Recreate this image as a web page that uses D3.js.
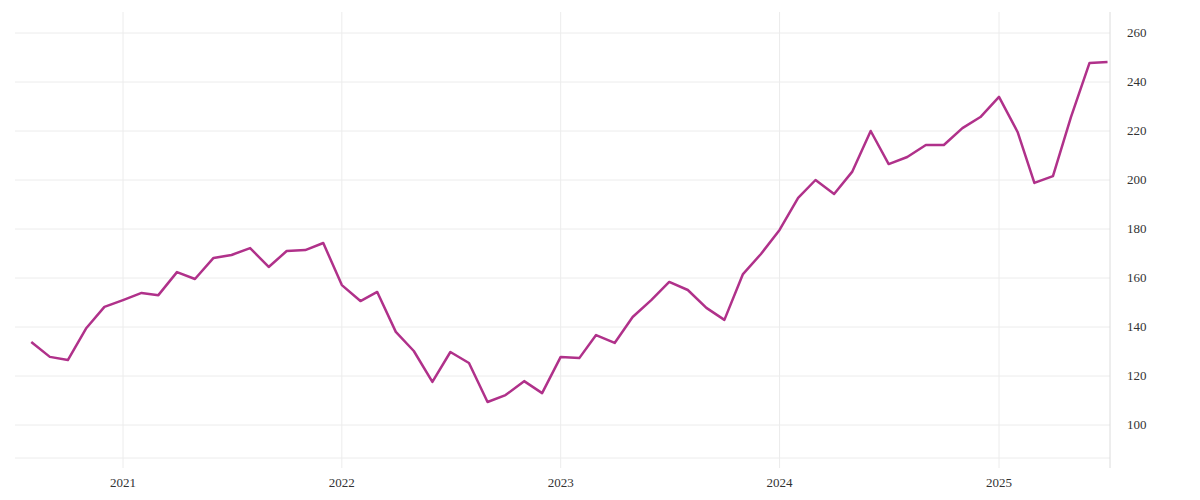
<!DOCTYPE html>
<html><head><meta charset="utf-8">
<script src="https://cdn.jsdelivr.net/npm/d3@7"></script>
<style>body{margin:0;background:#fff}text{font-family:"Liberation Serif",serif;font-size:13px;fill:#333}</style>
</head><body><svg id="c" width="1200" height="500"></svg>
<script>
const startMonth = "2020-08";
const values = [133.9,127.8,126.5,139.6,148.2,151,153.9,153,162.4,159.6,168.2,169.4,172.2,164.5,171,171.4,174.3,
157.1,150.6,154.3,138,130.2,117.6,129.8,125.3,109.4,112.2,117.9,113,
127.8,127.3,136.7,133.5,144.1,151,158.4,155.1,147.8,142.9,161.6,169.8,
179.6,192.7,200,194.3,203.3,220,206.5,209.4,214.3,214.3,221.2,225.7,
233.9,219.6,198.8,201.6,225.7,247.8,248.2];
const yTicks = [100,120,140,160,180,200,220,240,260];
const xTickYears = [2021,2022,2023,2024,2025];

(function(){
const svg = d3.select("#c");
const t0 = d3.timeParse("%Y-%m")(startMonth);
const dates = values.map((v,i)=>d3.timeMonth.offset(t0,i));
const x = d3.scaleTime().domain([new Date(2021,0,1),new Date(2025,0,1)]).range([123,999]);
const y = d3.scaleLinear().domain([100,260]).range([425,33]);
const pTop=12,pBottom=468,pLeft=15,pRight=1110;
const g = svg.append("g");
xTickYears.forEach(yr=>{
  const xx=x(new Date(yr,0,1));
  g.append("line").attr("x1",xx).attr("x2",xx).attr("y1",pTop).attr("y2",pBottom).attr("stroke","#ececec");
  g.append("text").attr("x",xx).attr("y",487).attr("text-anchor","middle").text(yr);
});
yTicks.forEach(v=>{
  g.append("line").attr("x1",pLeft).attr("x2",pRight).attr("y1",y(v)).attr("y2",y(v)).attr("stroke","#ececec");
  g.append("text").attr("x",1127).attr("y",y(v)+4).text(v);
});
g.append("line").attr("x1",pLeft).attr("x2",pRight).attr("y1",458).attr("y2",458).attr("stroke","#ececec");
g.append("line").attr("x1",pRight).attr("x2",pRight).attr("y1",pTop).attr("y2",pBottom).attr("stroke","#dcdcdc");
svg.append("path").datum(values).attr("fill","none").attr("stroke","#b0318a").attr("stroke-width",2.5)
  .attr("stroke-linejoin","round")
  .attr("d",d3.line().x((d,i)=>x(dates[i])).y(d=>y(d)));
})();
</script></body></html>
